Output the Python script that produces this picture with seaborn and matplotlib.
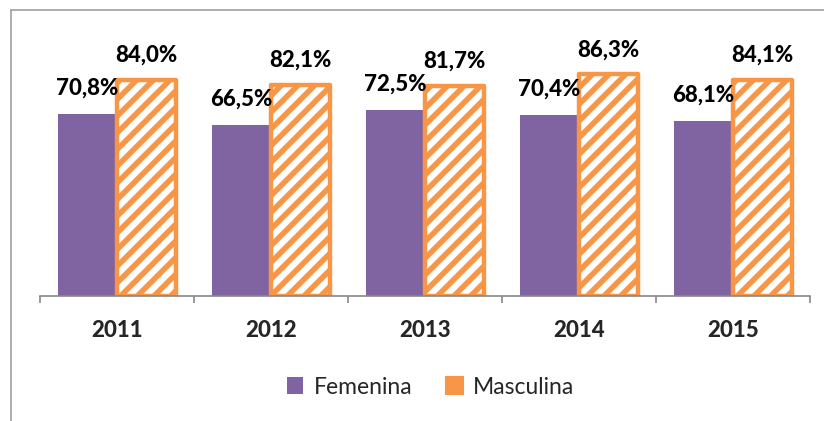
import matplotlib
matplotlib.use("Agg")
import matplotlib.pyplot as plt
from matplotlib.lines import Line2D
import seaborn as sns
import pandas as pd

years = ["2011", "2012", "2013", "2014", "2015"]
femenina = [70.8, 66.5, 72.5, 70.4, 68.1]
masculina = [84.0, 82.1, 81.7, 86.3, 84.1]
series = ["Femenina", "Masculina"]

PURPLE = "#8064A2"
ORANGE = "#F79646"

sns.set_theme(style="white")
plt.rcParams["font.family"] = ["Lato", "DejaVu Sans"]
plt.rcParams["hatch.color"] = ORANGE
plt.rcParams["hatch.linewidth"] = 4.0

df = pd.DataFrame({
    "year": years * 2,
    "value": femenina + masculina,
    "serie": [series[0]] * len(years) + [series[1]] * len(years),
})

fig = plt.figure(figsize=(8.24, 4.21), dpi=100)
ax = fig.add_axes([40 / 824, 1 - 296 / 421, 770 / 824, 257 / 421])

sns.barplot(data=df, x="year", y="value", hue="serie", order=years,
            hue_order=series, palette=[PURPLE, ORANGE], width=0.77,
            saturation=1, ax=ax, legend=False)

n = len(years)
for i, p in enumerate(ax.patches[:2 * n]):
    if i >= n:
        p.set_facecolor("white")
        p.set_edgecolor(ORANGE)
        p.set_linewidth(3.2)
        p.set_joinstyle("round")
        p.set_hatch("//")
    else:
        p.set_linewidth(0)

# value labels
for i, p in enumerate(ax.patches[:2 * n]):
    val = femenina[i] if i < n else masculina[i - n]
    cx = p.get_x() + p.get_width() / 2
    off = 14 if i < n else 13
    ax.annotate(f"{val:.1f}%".replace(".", ","), (cx, val), xytext=(0, off),
                textcoords="offset points", ha="center", va="baseline",
                fontsize=16, fontweight=900, color="black",
                annotation_clip=False)

ax.set_ylim(0, 100)
ax.set_xlim(-0.5, n - 0.5)
ax.set_xlabel("")
ax.set_ylabel("")
ax.set_yticks([])
for s in ["top", "right", "left"]:
    ax.spines[s].set_visible(False)
ax.spines["bottom"].set_color("#888888")
ax.spines["bottom"].set_linewidth(1.2)

ax.set_xticks(range(n))
ax.set_xticklabels(years, fontsize=16, fontweight=900)
ax.tick_params(axis="x", which="major", length=0, pad=17)
ax.set_xticks([i - 0.5 for i in range(n + 1)], minor=True)
ax.tick_params(axis="x", which="minor", length=5, width=1.2, color="#888888",
               direction="out", bottom=True)

# legend
handles = [
    plt.Rectangle((0, 0), 1, 1, facecolor=PURPLE, edgecolor="none"),
    plt.Rectangle((0, 0), 1, 1, facecolor=ORANGE, edgecolor=ORANGE,
                  linewidth=1.5),
]
fig.legend(handles, series, loc="center", bbox_to_anchor=(0.5225, 1 - 387 / 421),
           ncol=2, frameon=False, fontsize=16.5, handlelength=0.72,
           handleheight=0.72, columnspacing=1.5, handletextpad=0.45)

# outer chart border (partly cropped)
fig.add_artist(Line2D([11 / 824, 1.0], [1 - 10 / 421, 1 - 10 / 421],
                      transform=fig.transFigure, color="#a0a0a0", lw=1.2))
fig.add_artist(Line2D([11 / 824, 11 / 824], [0, 1 - 10 / 421],
                      transform=fig.transFigure, color="#a0a0a0", lw=1.2))

fig.savefig("out.png", dpi=100)
